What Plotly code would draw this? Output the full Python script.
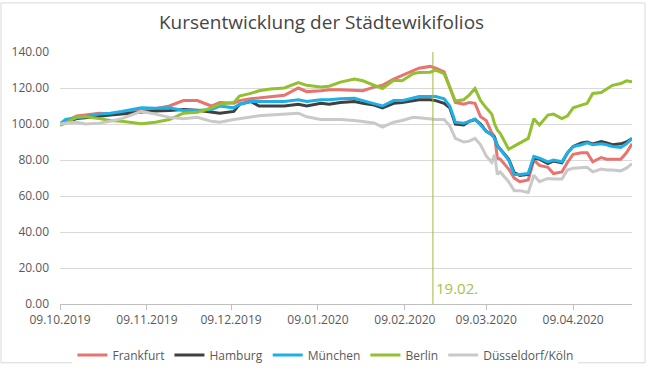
import plotly.graph_objects as go

dates = [
    "2019-10-09", "2019-10-11", "2019-10-15", "2019-10-18", "2019-10-23", "2019-10-27",
    "2019-10-31", "2019-11-04", "2019-11-07", "2019-11-12", "2019-11-17", "2019-11-22",
    "2019-11-27", "2019-12-02", "2019-12-05", "2019-12-10", "2019-12-12", "2019-12-16",
    "2019-12-19", "2019-12-23", "2019-12-28", "2020-01-02", "2020-01-05", "2020-01-10",
    "2020-01-13", "2020-01-17", "2020-01-22", "2020-01-25", "2020-01-29", "2020-02-01",
    "2020-02-05", "2020-02-08", "2020-02-12", "2020-02-14", "2020-02-18", "2020-02-20",
    "2020-02-23", "2020-02-25", "2020-02-27", "2020-03-01", "2020-03-03", "2020-03-05",
    "2020-03-07", "2020-03-09", "2020-03-11", "2020-03-12", "2020-03-13", "2020-03-14",
    "2020-03-17", "2020-03-19", "2020-03-21", "2020-03-24", "2020-03-26", "2020-03-28",
    "2020-03-31", "2020-04-02", "2020-04-05", "2020-04-07", "2020-04-09", "2020-04-12",
    "2020-04-14", "2020-04-16", "2020-04-19", "2020-04-21", "2020-04-23", "2020-04-26",
    "2020-04-28", "2020-04-30",
]

frankfurt = [
    100, 101.5, 104.5, 105, 106, 105.5, 106.5, 107, 108, 108.5, 110, 113,
    113, 110, 112, 111.5, 113, 114, 114.5, 115.5, 116, 120, 118, 118.5,
    119, 119, 118.5, 118.5, 120.5, 121.5, 125, 127, 129.5, 131, 132, 131,
    129, 120.5, 112, 111, 112, 111.5, 104, 102, 95, 93, 81, 80.5,
    75, 70, 68, 69, 80, 77, 76, 72.5, 73.4, 78.8, 83.2, 84,
    84.1, 79, 81.4, 80.5, 80.5, 80.5, 84, 89,
]

hamburg = [
    100, 101, 103, 103.5, 104.5, 105, 105.5, 106, 106.5, 107.3, 107.5, 108,
    107.7, 106.4, 106, 107, 111, 112.5, 110, 110, 110, 111, 110, 111.5,
    111, 112, 112.5, 111.5, 110.5, 109, 111.5, 112, 113, 113.5, 113.5, 113,
    111.5, 109, 100, 99.5, 101.5, 102.5, 100, 96, 94, 92.5, 88, 86,
    80.5, 73, 71.5, 72, 81, 80.5, 78, 79.5, 78.5, 84, 87.5, 89.5,
    90, 89, 90.3, 89.5, 88.5, 89, 90, 92,
]

muenchen = [
    100, 102.5, 103.5, 104, 105.5, 106, 107, 108, 109, 108.7, 109, 107.5,
    107.5, 108, 110, 109, 111, 112.5, 112.5, 112.5, 112.5, 113.5, 112.5, 113.5,
    113.5, 114, 114.3, 113, 111.5, 110, 113, 113, 114.5, 115.3, 115.3, 115.3,
    114, 110, 101, 100.5, 101.5, 102.8, 99.5, 96, 94, 92, 88, 86,
    80, 72, 72, 72.5, 82, 81, 79, 80, 79, 84, 87.5, 88.5,
    89.5, 88.5, 89, 88.5, 87.5, 87, 89, 92,
]

berlin = [
    99.3, 100.5, 104, 104, 103, 102, 101.6, 101, 100.2, 101, 102.5, 106,
    106.5, 109, 111, 112, 115.5, 117, 118.5, 119.5, 120, 123, 121.5, 120.6,
    121, 123.3, 125, 124, 121.5, 119.7, 124.3, 124, 128, 128.6, 128.8, 130,
    128, 120.5, 112.8, 113.5, 116.2, 119.7, 113, 109, 105.5, 100, 96.6, 94.8,
    86, 87.7, 89.5, 92, 103, 99.5, 105, 105.5, 103, 104.6, 109, 110.5,
    111.5, 117, 117.5, 119.5, 121.5, 122.5, 124, 123.5,
]

duesseldorf_koeln = [
    100, 100.5, 101, 100, 100.5, 101.5, 103, 105.5, 107, 105.5, 103.7, 103,
    103.7, 101.5, 101, 102.5, 103, 104, 104.6, 105, 105.5, 106, 104, 102.5,
    102.5, 102.5, 102, 101.5, 100.6, 98.3, 101, 102, 103.7, 103.5, 102.8, 102.5,
    102.5, 99, 92, 90, 90.5, 92, 88.5, 82.3, 78.7, 83, 72, 73.4,
    68, 63, 63, 62, 71.6, 68, 69.8, 69.5, 69.5, 74.5, 75.5, 76,
    76, 73.4, 75, 74.5, 74.5, 74, 75.5, 78,
]

series_names = ["Frankfurt", "Hamburg", "München", "Berlin", "Düsseldorf/Köln"]
series_values = [frankfurt, hamburg, muenchen, berlin, duesseldorf_koeln]
series_colors = ["#E8736F", "#404040", "#1DB0E6", "#92C02E", "#C9C9C9"]

tick_dates = ["2019-10-09", "2019-11-09", "2019-12-09", "2020-01-09",
              "2020-02-09", "2020-03-09", "2020-04-09"]
tick_labels = ["09.10.2019", "09.11.2019", "09.12.2019", "09.01.2020",
               "09.02.2020", "09.03.2020", "09.04.2020"]
y_ticks = [0, 20, 40, 60, 80, 100, 120, 140]
marker_date = "2020-02-19"
marker_label = "19.02."

fig = go.Figure()
for name, vals, col in zip(series_names, series_values, series_colors):
    fig.add_trace(go.Scatter(x=dates, y=vals, name=name, mode="lines",
                             line=dict(color=col, width=3)))

fig.add_shape(type="line", x0=marker_date, x1=marker_date, y0=0, y1=141,
              xref="x", yref="y", line=dict(color="#9DB83A", width=1), layer="above")
fig.add_annotation(x=marker_date, y=0, xref="x", yref="y", text=marker_label,
                   showarrow=False, xanchor="left", yanchor="bottom", xshift=1, yshift=4,
                   font=dict(color="#A8C23E", size=15, family="Open Sans"))

# chart border
fig.add_shape(type="rect", xref="paper", yref="paper",
              x0=(1 - 60) / 572, x1=(645 - 60) / 572,
              y0=(314 - 375) / 262, y1=(314 - 1) / 262,
              line=dict(color="#D9D9D9", width=1), fillcolor="rgba(0,0,0,0)")

fig.update_layout(
    width=647, height=377,
    margin=dict(l=60, r=15, t=52, b=63),
    paper_bgcolor="white", plot_bgcolor="white",
    font=dict(family="Open Sans", color="#595959", size=12),
    title=dict(text="Kursentwicklung der Städtewikifolios", x=0.497, xref="container",
               xanchor="center", y=1 - 22 / 377, yref="container", yanchor="middle",
               font=dict(size=19, color="#454545", family="Open Sans")),
    showlegend=True,
    legend=dict(orientation="h", x=0.503, xanchor="center", xref="container",
                y=22 / 377, yanchor="middle", yref="container",
                font=dict(size=12, color="#595959"), itemwidth=30,
                tracegroupgap=0),
    xaxis=dict(type="date", range=["2019-10-09", "2020-04-30"],
               tickvals=tick_dates, ticktext=tick_labels,
               showgrid=False, showline=True, linecolor="#BFBFBF", linewidth=1,
               ticks="outside", ticklen=5, tickcolor="#BFBFBF",
               tickfont=dict(size=12, color="#595959"), zeroline=False),
    yaxis=dict(range=[0, 140], tickvals=y_ticks, tickformat=".2f",
               showgrid=True, gridcolor="#D9D9D9", gridwidth=1,
               zeroline=False, showline=False, ticks="",
               ticklabelstandoff=10,
               tickfont=dict(size=12, color="#595959")),
)

fig.write_html("out.html", config={"displayModeBar": False},
               post_script="document.body.style.margin='0';document.body.style.padding='0';")
